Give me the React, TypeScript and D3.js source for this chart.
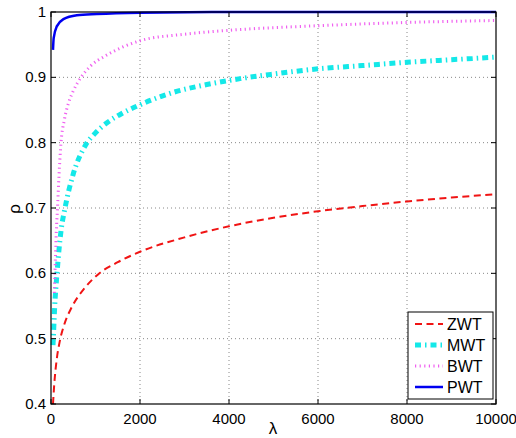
import React from "react";
import * as d3 from "d3";

const W = 516;
const H = 438;

const xTicks = [0, 2000, 4000, 6000, 8000, 10000];
const yTicks = [0.4, 0.5, 0.6, 0.7, 0.8, 0.9, 1.0];
const yTickLabels = ["0.4", "0.5", "0.6", "0.7", "0.8", "0.9", "1"];

const seriesNames = ["ZWT", "MWT", "BWT", "PWT"];

const zwtLambda = [45, 75, 128, 200, 300, 465, 764, 1050, 1500, 2000, 3000, 4000, 5000, 6000, 7000, 8000, 9000, 10000];
const zwtRho = [0.4, 0.432, 0.468, 0.497, 0.522, 0.548, 0.578, 0.598, 0.617, 0.633, 0.655, 0.672, 0.685, 0.695, 0.703, 0.71, 0.716, 0.721];

const mwtLambda = [45, 52, 80, 135, 225, 315, 500, 765, 1000, 1250, 1600, 2000, 2750, 3500, 4250, 5000, 6000, 7000, 8000, 9000, 10000];
const mwtRho = [0.49, 0.5, 0.545, 0.6, 0.665, 0.7, 0.752, 0.795, 0.815, 0.83, 0.845, 0.858, 0.877, 0.889, 0.898, 0.905, 0.913, 0.918, 0.923, 0.927, 0.931];

const bwtLambda = [75, 100, 120, 146, 180, 225, 300, 400, 500, 675, 900, 1200, 1600, 2000, 3000, 4000, 6000, 8000, 10000];
const bwtRho = [0.57, 0.625, 0.665, 0.7, 0.75, 0.8, 0.835, 0.862, 0.879, 0.9, 0.918, 0.932, 0.946, 0.956, 0.966, 0.972, 0.979, 0.984, 0.987];

const pwtLambda = [45, 60, 130, 280, 580, 1030, 2000, 4000, 10000];
const pwtRho = [0.942, 0.96, 0.978, 0.989, 0.995, 0.997, 0.999, 1.0, 1.0];

const lambdas = [zwtLambda, mwtLambda, bwtLambda, pwtLambda];
const rhos = [zwtRho, mwtRho, bwtRho, pwtRho];

const styles = [
  { color: "#f01414", width: 2, dash: "7 4.5" },
  { color: "#14e8e8", width: 5, dash: "6 4 1.5 4" },
  { color: "#f060f0", width: 3, dash: "1.2 3.4" },
  { color: "#0000f0", width: 2.5, dash: "" },
];

export default function App() {
  const left = 51, right = 496, top = 12, bottom = 404;
  const x = d3.scaleLinear().domain([0, 10000]).range([left, right]);
  const y = d3.scaleLinear().domain([0.4, 1]).range([bottom, top]);
  const font = "'Liberation Sans', Arial, Helvetica, sans-serif";

  const line = d3
    .line<[number, number]>()
    .x((d) => x(d[0]))
    .y((d) => y(d[1]))
    .curve(d3.curveMonotoneX);

  const paths = seriesNames.map((_, i) => {
    const pts = lambdas[i].map((l, j) => [l, rhos[i][j]] as [number, number]);
    return line(pts) || "";
  });

  const tickLen = 5;
  const legX = 408, legY = 312, legW = 85, legH = 87;

  return (
    <svg width={W} height={H} style={{ position: "absolute", left: 0, top: 0, background: "#fff" }} fontFamily={font}>
      <rect x={0} y={0} width={W} height={H} fill="#fff" />
      {/* grid */}
      {xTicks.slice(1, -1).map((t) => (
        <line key={"gx" + t} x1={x(t)} x2={x(t)} y1={top} y2={bottom} stroke="#888" strokeWidth={1} strokeDasharray="1 3" />
      ))}
      {yTicks.slice(1, -1).map((t) => (
        <line key={"gy" + t} x1={left} x2={right} y1={y(t)} y2={y(t)} stroke="#888" strokeWidth={1} strokeDasharray="1 3" />
      ))}
      {/* series */}
      {paths.map((p, i) => (
        <path key={i} d={p} fill="none" stroke={styles[i].color} strokeWidth={styles[i].width} strokeDasharray={styles[i].dash || undefined} />
      ))}
      {/* box */}
      <rect x={left} y={top} width={right - left} height={bottom - top} fill="none" stroke="#000" strokeWidth={1.2} />
      {/* ticks */}
      {xTicks.map((t) => (
        <g key={"tx" + t}>
          <line x1={x(t)} x2={x(t)} y1={bottom} y2={bottom - tickLen} stroke="#000" />
          <line x1={x(t)} x2={x(t)} y1={top} y2={top + tickLen} stroke="#000" />
          <text x={x(t)} y={bottom + 20} fontSize={15} textAnchor="middle" fill="#000">
            {String(t)}
          </text>
        </g>
      ))}
      {yTicks.map((t, i) => (
        <g key={"ty" + t}>
          <line x1={left} x2={left + tickLen} y1={y(t)} y2={y(t)} stroke="#000" />
          <line x1={right} x2={right - tickLen} y1={y(t)} y2={y(t)} stroke="#000" />
          <text x={left - 5} y={y(t) + 5} fontSize={15} textAnchor="end" fill="#000">
            {yTickLabels[i]}
          </text>
        </g>
      ))}
      {/* axis labels */}
      <text x={273} y={434} fontSize={17} textAnchor="middle" fill="#000">λ</text>
      <text transform="translate(20,209) rotate(-90)" fontSize={17} textAnchor="middle" fill="#000">ρ</text>
      {/* legend */}
      <rect x={legX} y={legY} width={legW} height={legH} fill="#fff" stroke="#000" strokeWidth={1} />
      {seriesNames.map((n, i) => {
        const ly = legY + 12 + i * 21;
        return (
          <g key={"leg" + n}>
            <line x1={legX + 7} x2={legX + 35} y1={ly} y2={ly} stroke={styles[i].color} strokeWidth={styles[i].width} strokeDasharray={styles[i].dash || undefined} />
            <text x={legX + 39} y={ly + 6} fontSize={16} fill="#000">{n}</text>
          </g>
        );
      })}
    </svg>
  );
}
